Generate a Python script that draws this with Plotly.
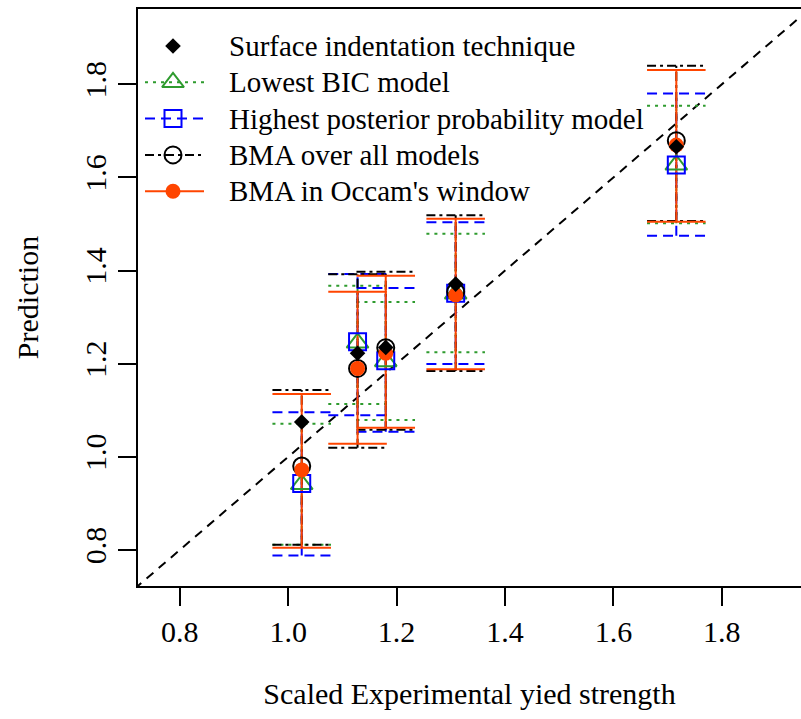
import plotly.graph_objects as go

# ---------------- data ----------------
x_exp = [1.025, 1.128, 1.180, 1.309, 1.716]

surface = [1.075, 1.2225, 1.235, 1.371, 1.666]

bic_fit = [0.941, 1.245, 1.205, 1.350, 1.627]
bic_lo = [0.8115, 1.1136, 1.0792, 1.2246, 1.5016]
bic_hi = [1.0713, 1.3676, 1.3326, 1.4793, 1.7541]

hpm_fit = [0.943, 1.2474, 1.2066, 1.3513, 1.6268]
hpm_lo = [0.788, 1.0893, 1.054, 1.1995, 1.475]
hpm_hi = [1.0958, 1.3927, 1.3627, 1.5038, 1.780]

bma_fit = [0.9805, 1.190, 1.2345, 1.3547, 1.679]
bma_lo = [0.8115, 1.0198, 1.058, 1.1845, 1.5065]
bma_hi = [1.1437, 1.392, 1.3977, 1.5188, 1.840]

occ_fit = [0.972, 1.190, 1.2225, 1.3476, 1.6697]
occ_lo = [0.805, 1.0283, 1.0627, 1.1881, 1.505]
occ_hi = [1.135, 1.3547, 1.389, 1.5115, 1.8308]

tick_vals = [0.8, 1.0, 1.2, 1.4, 1.6, 1.8]
tick_text = ["0.8", "1.0", "1.2", "1.4", "1.6", "1.8"]

names = ["Surface indentation technique", "Lowest BIC model",
         "Highest posterior probability model", "BMA over all models",
         "BMA in Occam's window"]

# ---------------- styles ----------------
GREEN = "#2E9B2E"
BLUE = "#0000FF"
BLACK = "#000000"
ORANGE = "#FF4500"
FONT = "Liberation Serif"
CAP = 0.054  # half width of error-bar caps in data units

DASH_BIC = "3px,5px"
DASH_HPM = "10px,6px"
DASH_BMA = "9px,4px,3px,4px"
DASH_OCC = "solid"


def bar_path(xs, lo, hi, w):
    px, py = [], []
    for xi, l, h in zip(xs, lo, hi):
        px += [xi - w, xi + w, None, xi, xi, None, xi - w, xi + w, None]
        py += [h, h, None, l, h, None, l, l, None]
    return px, py


fig = go.Figure()

# identity line
fig.add_trace(go.Scatter(x=[0.0, 3.0], y=[0.0, 3.0], mode="lines",
                         line=dict(color=BLACK, width=2, dash="9px,7px"),
                         showlegend=False, hoverinfo="skip"))

series = [
    (bic_lo, bic_hi, GREEN, DASH_BIC),
    (hpm_lo, hpm_hi, BLUE, DASH_HPM),
    (bma_lo, bma_hi, BLACK, DASH_BMA),
    (occ_lo, occ_hi, ORANGE, DASH_OCC),
]
for lo, hi, col, dash in series:
    bx, by = bar_path(x_exp, lo, hi, CAP)
    fig.add_trace(go.Scatter(x=bx, y=by, mode="lines",
                             line=dict(color=col, width=2, dash=dash),
                             showlegend=False, hoverinfo="skip"))

markers = [
    (bic_fit, "triangle-up-open", 19, GREEN, 2),
    (hpm_fit, "square-open", 17, BLUE, 2),
    (bma_fit, "circle-open", 17, BLACK, 2),
    (occ_fit, "circle", 15, ORANGE, 0),
    (surface, "diamond", 12, BLACK, 0),
]
for yv, sym, sz, col, lw in markers:
    fig.add_trace(go.Scatter(x=x_exp, y=yv, mode="markers", showlegend=False,
                             marker=dict(symbol=sym, size=sz, color=col,
                                         line=dict(width=lw, color=col))))

# ---------------- legend (drawn on an overlay pixel-like axis) ----------------
leg_styles = [
    (None, "diamond", 12, BLACK, 0),
    (DASH_BIC, "triangle-up-open", 19, GREEN, 2),
    (DASH_HPM, "square-open", 17, BLUE, 2),
    (DASH_BMA, "circle-open", 17, BLACK, 2),
    (DASH_OCC, "circle", 15, ORANGE, 0),
]
LEG_TOP, LEG_STEP = 37.0, 36.3      # row centres (px below top of plot area)
LEG_X0, LEG_X1, LEG_XM, LEG_TX = 7, 66, 35, 89
for i, (name, (dash, sym, sz, col, lw)) in enumerate(zip(names, leg_styles)):
    ry = LEG_TOP + i * LEG_STEP
    if dash is not None:
        fig.add_trace(go.Scatter(x=[LEG_X0, LEG_X1], y=[ry, ry], mode="lines",
                                 xaxis="x2", yaxis="y2", showlegend=False,
                                 hoverinfo="skip",
                                 line=dict(color=col, width=2, dash=dash)))
    fig.add_trace(go.Scatter(x=[LEG_XM], y=[ry], mode="markers",
                             xaxis="x2", yaxis="y2", showlegend=False,
                             hoverinfo="skip",
                             marker=dict(symbol=sym, size=sz, color=col,
                                         line=dict(width=lw, color=col))))
    fig.add_annotation(x=LEG_TX, y=ry, xref="x2", yref="y2", text=name,
                       showarrow=False, xanchor="left", yanchor="middle",
                       font=dict(family=FONT, size=29, color=BLACK))

axis_common = dict(
    showgrid=False, zeroline=False, showline=True, linecolor=BLACK, linewidth=2,
    ticks="outside", ticklen=18, tickwidth=2, tickcolor=BLACK,
    tickvals=tick_vals, ticktext=tick_text,
    tickfont=dict(family=FONT, size=30, color=BLACK),
)

fig.update_layout(
    width=801, height=719,
    margin=dict(l=138, r=0, t=9, b=133),
    paper_bgcolor="white", plot_bgcolor="white",
    font=dict(family=FONT, size=30, color=BLACK),
    showlegend=False,
    xaxis=dict(range=[0.723, 1.946], mirror=True,
               title=dict(text="Scaled Experimental yied strength",
                          font=dict(family=FONT, size=30), standoff=36),
               **axis_common),
    yaxis=dict(range=[0.7227, 1.9617], mirror=False, tickangle=-90,
               title=dict(text="Prediction", font=dict(family=FONT, size=30),
                          standoff=32),
               **axis_common),
    xaxis2=dict(overlaying="x", range=[0, 663], visible=False, fixedrange=True),
    yaxis2=dict(overlaying="y", range=[577, 0], visible=False, fixedrange=True),
)

fig.write_html("out.html")
